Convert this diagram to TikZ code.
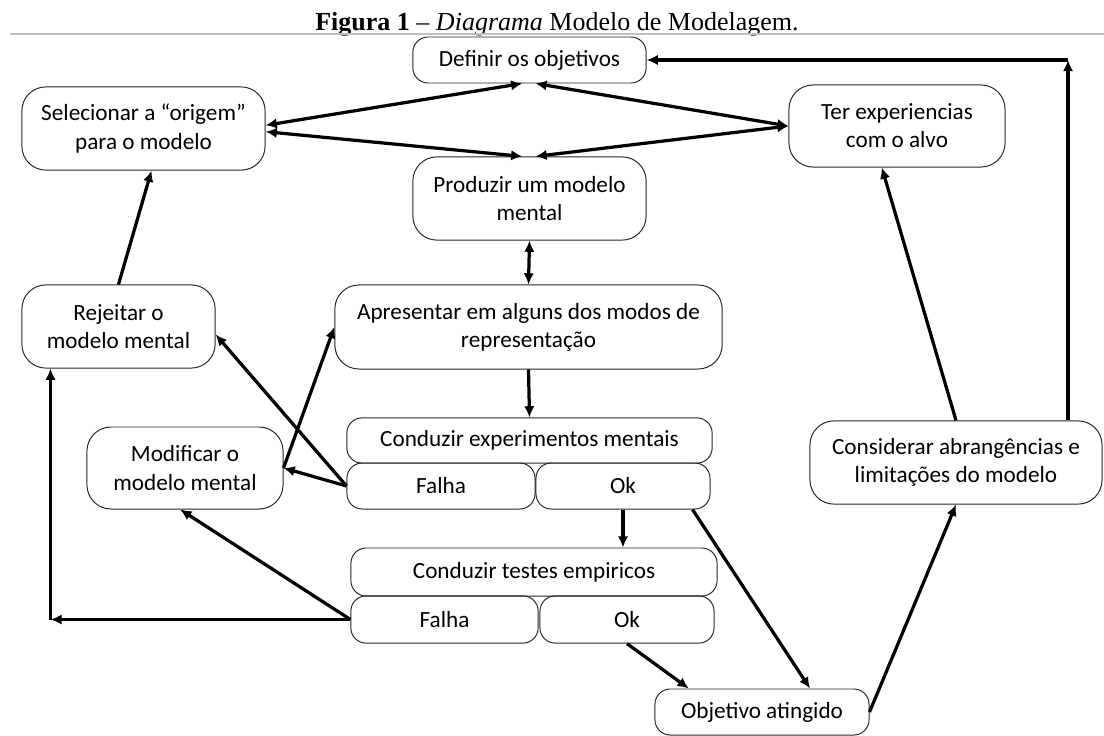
\documentclass[tikz,border=0pt]{standalone}
\usepackage{fontspec}
\setmainfont{Carlito}
\newfontfamily\titlefont[Ligatures=TeX]{Liberation Serif}
\usepackage{tikz}
\usetikzlibrary{calc}
\usetikzlibrary{positioning}
\usetikzlibrary{arrows.meta}

\begin{document}
\begin{tikzpicture}[x=0.025cm, y=-0.025cm,
    caixa/.style={rectangle, draw=black!85, line width=0.7pt, rounded corners=0.6cm, align=center, inner sep=0pt, font=\fontsize{16.5}{20}\selectfont},
    caixabaixa/.style={caixa, rounded corners=0.38cm},
    seta/.style={black, line width=2.3pt, -{Latex[length=0.28cm, width=0.26cm]}},
    setadupla/.style={seta, {Latex[length=0.28cm, width=0.26cm]}-{Latex[length=0.28cm, width=0.26cm]}}]

\useasboundingbox (0,0) rectangle (1104,736);

%\draw[step=1cm, gray, very thin, dotted] (0,0) grid (1104,736);

\node at (557,24) (titulo) {\titlefont\fontsize{18.5}{20}\selectfont\textbf{Figura 1} -- \textit{Diagrama} Modelo de Modelagem.};
\draw[black!25, line width=0.8pt] (10,34) -- (1104,34);

% parte de cima
\node at (529.5,60) [caixabaixa, minimum width=5.83cm, minimum height=1.15cm] (objetivos) {Definir os objetivos};
\node at (143.5,128.5) [caixa, minimum width=6.08cm, minimum height=2.08cm] (origem) {Selecionar a ``origem''\\para o modelo};
\node at (897,126) [caixa, minimum width=5.4cm, minimum height=2.05cm] (alvo) {Ter experiencias\\com o alvo};
\node at (529.5,198.5) [caixa, minimum width=5.83cm, minimum height=2.08cm] (produzir) {Produzir um modelo\\mental};
\node at (528.5,327) [caixa, minimum width=9.68cm, minimum height=2.1cm] (apresentar) {Apresentar em alguns dos modos de\\representa\c{c}\~ao};
\node at (118.5,326.5) [caixa, minimum width=4.83cm, minimum height=2.08cm] (rejeitar) {Rejeitar o\\modelo mental};
\node at (185,468) [caixa, minimum width=4.9cm, minimum height=2.05cm] (modificar) {Modificar o\\modelo mental};

% experimentos e testes
\node at (529.5,440.5) [caixabaixa, minimum width=9.13cm, minimum height=1.13cm] (expmental) {Conduzir experimentos mentais};
\node at (441,486) [caixabaixa, minimum width=4.7cm, minimum height=1.15cm] (falhaexp) {Falha};
\node at (623,486) [caixabaixa, minimum width=4.35cm, minimum height=1.15cm] (okexp) {Ok};
\node at (534,572) [caixabaixa, minimum width=9.15cm, minimum height=1.2cm] (testes) {Conduzir testes empiricos};
\node at (444.5,619.5) [caixabaixa, minimum width=4.68cm, minimum height=1.18cm] (falhatest) {Falha};
\node at (627,619.5) [caixabaixa, minimum width=4.35cm, minimum height=1.18cm] (oktest) {Ok};

\node at (762,712) [caixabaixa, minimum width=5.35cm, minimum height=1.15cm] (atingido) {Objetivo atingido};
\node at (956,462.5) [caixa, minimum width=7.3cm, minimum height=2.08cm] (abrangencia) {Considerar abrang\^encias e\\limita\c{c}\~oes do modelo};

% setas
\draw[setadupla] ([yshift=0.08cm]origem.east) -- ([xshift=-0.18cm]objetivos.south);
\draw[setadupla] ([yshift=-0.08cm]origem.east) -- ([xshift=-0.18cm]produzir.north);
\draw[setadupla] (alvo.west) -- ([xshift=0.15cm]objetivos.south);
\draw[setadupla] (alvo.west) -- ([xshift=0.15cm]produzir.north);
\draw[setadupla] (produzir.south) -- (apresentar.north);
\draw[seta] (apresentar.south) -- (expmental.north);

\draw[seta] (falhaexp.west) -- ([yshift=-0.2cm]rejeitar.east);
\draw[seta] (falhaexp.west) -- (modificar.east);
\draw[seta] (modificar.east) -- (apresentar.west);
\draw[seta] (rejeitar.north) -- ([xshift=0.2cm]origem.south);

\draw[seta] (okexp.south) -- (okexp.south |- testes.north);
\draw[seta] ([xshift=-0.45cm]okexp.south east) -- ([xshift=1.2cm]atingido.north);

\coordinate (canto) at ([xshift=-1.7cm]rejeitar.south |- falhatest.west);
\draw[seta] (falhatest.west) -- ([xshift=-0.12cm]modificar.south);
\draw[seta] (falhatest.west) -- (canto);
\draw[seta] (canto) -- (canto |- rejeitar.south);

\draw[seta] (oktest.south) -- ([xshift=-1.83cm]atingido.north);
\draw[seta] (atingido.east) -- (abrangencia.south);
\draw[seta] (abrangencia.north) -- ([xshift=-0.38cm]alvo.south);

\coordinate (retorno) at ([xshift=2.8cm]abrangencia.north |- objetivos.east);
\draw[seta] ([xshift=2.8cm]abrangencia.north) -- (retorno);
\draw[seta] (retorno) -- (objetivos.east);

\end{tikzpicture}
\end{document}
